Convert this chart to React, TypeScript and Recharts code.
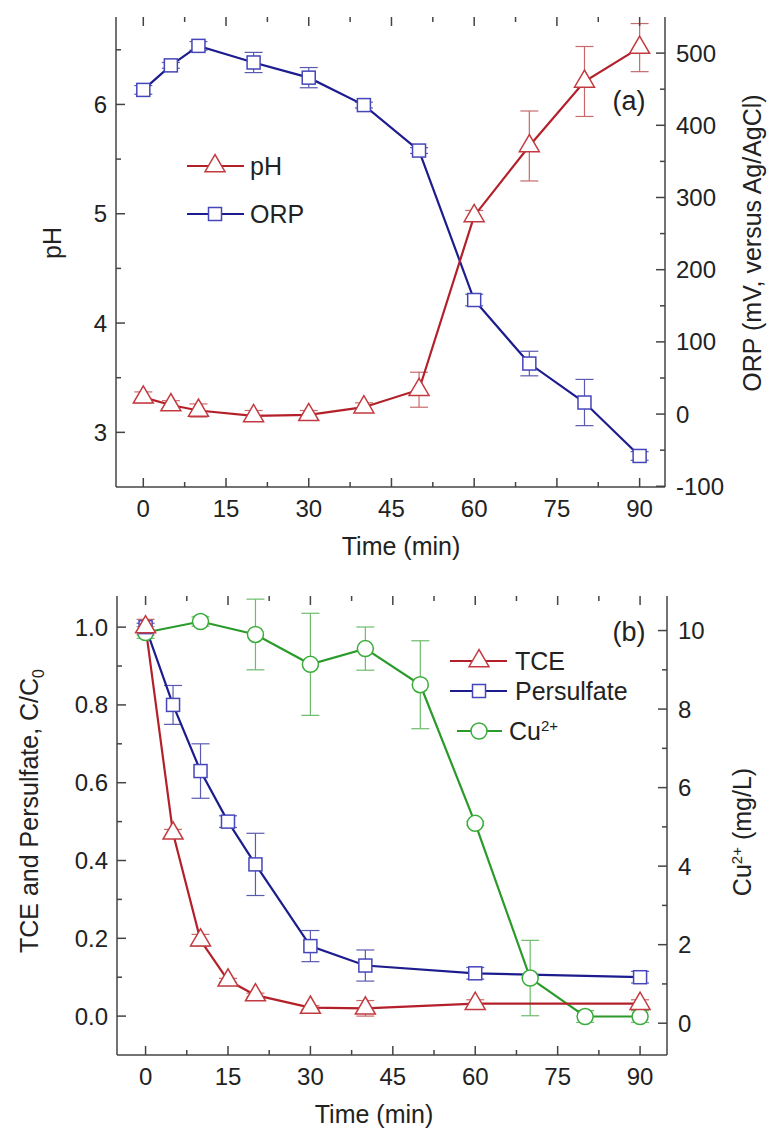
import React from 'react'
import { ComposedChart, Line, XAxis, YAxis, ErrorBar } from 'recharts'

// panel (a): pH and ORP vs time
const TIME_A = [0, 5, 10, 20, 30, 40, 50, 60, 70, 80, 90]
const PH = [3.32, 3.25, 3.2, 3.15, 3.16, 3.23, 3.39, 4.98, 5.62, 6.21, 6.52]
const PH_ERR = [0.05, 0.04, 0.06, 0.05, 0.04, 0.04, 0.16, 0.05, 0.32, 0.32, 0.22]
const ORP = [449, 483, 510, 487, 466, 428, 365, 158, 70, 16, -58]
const ORP_ERR = [6, 4, 6, 14, 14, 4, 4, 8, 17, 32, 6]

// panel (b): TCE, persulfate, Cu2+ vs time
const TIME_B = [0, 5, 10, 15, 20, 30, 40, 60, 90]
const TCE = [1.0, 0.47, 0.195, 0.092, 0.054, 0.022, 0.02, 0.032, 0.032]
const TCE_ERR = [0.02, 0.01, 0.015, 0.005, 0.005, 0.005, 0.02, 0.01, 0.01]
const PERSULFATE = [1.0, 0.8, 0.63, 0.5, 0.39, 0.18, 0.13, 0.11, 0.1]
const PERSULFATE_ERR = [0.01, 0.05, 0.07, 0.015, 0.08, 0.04, 0.04, 0.015, 0.015]
const TIME_CU = [0, 10, 20, 30, 40, 50, 60, 70, 80, 90]
const CU = [9.95, 10.23, 9.9, 9.14, 9.54, 8.62, 5.09, 1.15, 0.17, 0.17]
const CU_ERR = [0.15, 0.12, 0.9, 1.3, 0.55, 1.12, 0.05, 0.96, 0.15, 0.15]

// ticks
const TIME_TICKS = [0, 15, 30, 45, 60, 75, 90]
const TIME_MINOR = [7.5, 22.5, 37.5, 52.5, 67.5, 82.5]
const PH_TICKS = [3, 4, 5, 6]
const PH_MINOR = [3.5, 4.5, 5.5, 6.5]
const ORP_TICKS = [-100, 0, 100, 200, 300, 400, 500]
const ORP_MINOR = [-50, 50, 150, 250, 350, 450]
const CC0_TICKS = [0, 0.2, 0.4, 0.6, 0.8, 1.0]
const CC0_MINOR = [0.1, 0.3, 0.5, 0.7, 0.9]
const CU_TICKS = [0, 2, 4, 6, 8, 10]
const CU_MINOR = [1, 3, 5, 7, 9]

const FONT = '"Liberation Sans", Arial, Helvetica, sans-serif'
const AXIS = '#444'
const RED_LINE = '#b3202a'
const RED_MARK = '#c23a40'
const RED_ERR = '#c86a6a'
const BLUE_LINE = '#1c1c8e'
const BLUE_MARK = '#4646bb'
const BLUE_ERR = '#5a5ab0'
const GREEN_LINE = '#2a9a2a'
const GREEN_MARK = '#3aac3a'
const GREEN_ERR = '#6cbc6c'

type Frame = { left: number; right: number; top: number; bottom: number }

const FRAME_A: Frame = { left: 116, right: 665, top: 17, bottom: 487 }
const FRAME_B: Frame = { left: 117, right: 667, top: 36, bottom: 495 }

const sortTicks = (a: number[], b: number[]) => [...a, ...b].sort((p, q) => p - q)

const xTick = (f: Frame, major: number[]) => (props: any) => {
  const { x, payload } = props
  const isMajor = major.includes(payload.value)
  const len = isMajor ? 9 : 5
  return (
    <g>
      <line x1={x} x2={x} y1={f.bottom} y2={f.bottom - len} stroke={AXIS} strokeWidth={1.5} />
      <line x1={x} x2={x} y1={f.top} y2={f.top + len} stroke={AXIS} strokeWidth={1.5} />
      {isMajor && (
        <text x={x} y={f.bottom + 21} textAnchor="middle" dominantBaseline="central"
          fontFamily={FONT} fontSize={24} fill="#222">{payload.value}</text>
      )}
    </g>
  )
}

const yTick = (f: Frame, side: 'left' | 'right', major: number[], fmt: (v: number) => string) => (props: any) => {
  const { y, payload } = props
  const isMajor = major.includes(payload.value)
  const len = isMajor ? 9 : 5
  const ax = side === 'left' ? f.left : f.right
  const dir = side === 'left' ? 1 : -1
  return (
    <g>
      <line x1={ax} x2={ax + dir * len} y1={y} y2={y} stroke={AXIS} strokeWidth={1.5} />
      {isMajor && (
        <text x={side === 'left' ? ax - 9 : ax + 11} y={y}
          textAnchor={side === 'left' ? 'end' : 'start'} dominantBaseline="central"
          fontFamily={FONT} fontSize={24} fill="#222">{fmt(payload.value)}</text>
      )}
    </g>
  )
}

const triangleDot = (stroke: string, w: number) => (p: any) => {
  const { cx, cy, key } = p
  if (cx == null || cy == null) return <g key={key} />
  const h = w * 0.86
  const pts = `${cx},${cy - (2 * h) / 3} ${cx - w / 2},${cy + h / 3} ${cx + w / 2},${cy + h / 3}`
  return <polygon key={key} points={pts} fill="#fff" stroke={stroke} strokeWidth={1.5} />
}

const squareDot = (stroke: string, s: number) => (p: any) => {
  const { cx, cy, key } = p
  if (cx == null || cy == null) return <g key={key} />
  return <rect key={key} x={cx - s / 2} y={cy - s / 2} width={s} height={s} fill="#fff" stroke={stroke} strokeWidth={1.5} />
}

const circleDot = (stroke: string, r: number) => (p: any) => {
  const { cx, cy, key } = p
  if (cx == null || cy == null) return <g key={key} />
  return <circle key={key} cx={cx} cy={cy} r={r} fill="#fff" stroke={stroke} strokeWidth={1.5} />
}

const rows = (ts: number[], vs: number[], es: number[]) => ts.map((t, i) => ({ t, v: vs[i], err: es[i] }))

const phData = rows(TIME_A, PH, PH_ERR)
const orpData = rows(TIME_A, ORP, ORP_ERR)
const tceData = rows(TIME_B, TCE, TCE_ERR)
const persData = rows(TIME_B, PERSULFATE, PERSULFATE_ERR)
const cuData = rows(TIME_CU, CU, CU_ERR)

const text: React.CSSProperties = {
  position: 'absolute', fontFamily: FONT, fontSize: 25, color: '#222',
  whiteSpace: 'nowrap', lineHeight: 1,
}

const Title = ({ x, y, rotate, children, size }: { x: number; y: number; rotate?: boolean; children: React.ReactNode; size?: number }) => (
  <div style={{ ...text, fontSize: size ?? 25, left: x, top: y, transform: `translate(-50%, -50%)${rotate ? ' rotate(-90deg)' : ''}` }}>
    {children}
  </div>
)

const LegendRow = ({ y, x1, x2, mx, tx, color, mark, children }: any) => (
  <>
    <svg style={{ position: 'absolute', left: 0, top: 0, overflow: 'visible' }} width={1} height={1}>
      <line x1={x1} x2={x2} y1={y} y2={y} stroke={color} strokeWidth={2} />
      {mark({ cx: mx, cy: y, key: 'm' })}
    </svg>
    <div style={{ ...text, left: tx, top: y, transform: 'translateY(-50%)' }}>{children}</div>
  </>
)

function PanelA() {
  const f = FRAME_A
  return (
    <ComposedChart width={771} height={560} margin={{ top: f.top, right: 0, bottom: 0, left: 0 }}>
      <XAxis dataKey="t" type="number" domain={[-4.95, 94.6]} ticks={sortTicks(TIME_TICKS, TIME_MINOR)}
        interval={0} height={560 - f.bottom} tickLine={false} axisLine={{ stroke: AXIS, strokeWidth: 1.5 }}
        tick={xTick(f, TIME_TICKS)} allowDataOverflow />
      <XAxis xAxisId="top" orientation="top" type="number" domain={[-4.95, 94.6]} height={0}
        tick={false} tickLine={false} axisLine={{ stroke: AXIS, strokeWidth: 1.5 }} />
      <YAxis yAxisId="ph" type="number" domain={[2.5, 6.8]} ticks={sortTicks(PH_TICKS, PH_MINOR)} interval={0}
        width={f.left} tickLine={false} axisLine={{ stroke: AXIS, strokeWidth: 1.5 }}
        tick={yTick(f, 'left', PH_TICKS, v => String(v))} allowDataOverflow />
      <YAxis yAxisId="orp" orientation="right" type="number" domain={[-101, 550]} ticks={sortTicks(ORP_TICKS, ORP_MINOR)}
        interval={0} width={771 - f.right} tickLine={false} axisLine={{ stroke: AXIS, strokeWidth: 1.5 }}
        tick={yTick(f, 'right', ORP_TICKS, v => String(v))} allowDataOverflow />
      <Line yAxisId="orp" data={orpData} dataKey="v" type="linear" stroke={BLUE_LINE} strokeWidth={2.2}
        dot={squareDot(BLUE_MARK, 13)} activeDot={false} isAnimationActive={false}>
        <ErrorBar dataKey="err" width={9} stroke={BLUE_ERR} strokeWidth={1.2} direction="y" />
      </Line>
      <Line yAxisId="ph" data={phData} dataKey="v" type="linear" stroke={RED_LINE} strokeWidth={2.2}
        dot={triangleDot(RED_MARK, 20)} activeDot={false} isAnimationActive={false}>
        <ErrorBar dataKey="err" width={9} stroke={RED_ERR} strokeWidth={1.2} direction="y" />
      </Line>
    </ComposedChart>
  )
}

function PanelB() {
  const f = FRAME_B
  return (
    <ComposedChart width={771} height={568} margin={{ top: f.top, right: 0, bottom: 0, left: 0 }}>
      <XAxis dataKey="t" type="number" domain={[-5.2, 94.9]} ticks={sortTicks(TIME_TICKS, TIME_MINOR)}
        interval={0} height={568 - f.bottom} tickLine={false} axisLine={{ stroke: AXIS, strokeWidth: 1.5 }}
        tick={xTick(f, TIME_TICKS)} allowDataOverflow />
      <XAxis xAxisId="top" orientation="top" type="number" domain={[-5.2, 94.9]} height={0}
        tick={false} tickLine={false} axisLine={{ stroke: AXIS, strokeWidth: 1.5 }} />
      <YAxis yAxisId="c" type="number" domain={[-0.1, 1.08]} ticks={sortTicks(CC0_TICKS, CC0_MINOR)} interval={0}
        width={f.left} tickLine={false} axisLine={{ stroke: AXIS, strokeWidth: 1.5 }}
        tick={yTick(f, 'left', CC0_TICKS, v => v.toFixed(1))} allowDataOverflow />
      <YAxis yAxisId="cu" orientation="right" type="number" domain={[-0.81, 10.88]} ticks={sortTicks(CU_TICKS, CU_MINOR)}
        interval={0} width={771 - f.right} tickLine={false} axisLine={{ stroke: AXIS, strokeWidth: 1.5 }}
        tick={yTick(f, 'right', CU_TICKS, v => String(v))} allowDataOverflow />
      <Line yAxisId="cu" data={cuData} dataKey="v" type="linear" stroke={GREEN_LINE} strokeWidth={2.2}
        dot={circleDot(GREEN_MARK, 8)} activeDot={false} isAnimationActive={false}>
        <ErrorBar dataKey="err" width={9} stroke={GREEN_ERR} strokeWidth={1.2} direction="y" />
      </Line>
      <Line yAxisId="c" data={persData} dataKey="v" type="linear" stroke={BLUE_LINE} strokeWidth={2.2}
        dot={squareDot(BLUE_MARK, 13)} activeDot={false} isAnimationActive={false}>
        <ErrorBar dataKey="err" width={9} stroke={BLUE_ERR} strokeWidth={1.2} direction="y" />
      </Line>
      <Line yAxisId="c" data={tceData} dataKey="v" type="linear" stroke={RED_LINE} strokeWidth={2.2}
        dot={triangleDot(RED_MARK, 20)} activeDot={false} isAnimationActive={false}>
        <ErrorBar dataKey="err" width={9} stroke={RED_ERR} strokeWidth={1.2} direction="y" />
      </Line>
    </ComposedChart>
  )
}

export default function App() {
  return (
    <div style={{ position: 'absolute', left: 0, top: 0, width: 771, height: 1128, background: '#fff', overflow: 'hidden' }}>
      <div style={{ position: 'absolute', left: 0, top: 0 }}>
        <PanelA />
      </div>
      <div style={{ position: 'absolute', left: 0, top: 560 }}>
        <PanelB />
      </div>

      {/* panel (a) text */}
      <Title x={52} y={243} rotate>pH</Title>
      <Title x={752} y={243} rotate>ORP (mV, versus Ag/AgCl)</Title>
      <Title x={401} y={546}>Time (min)</Title>
      <Title x={629} y={101} size={27}>(a)</Title>
      <LegendRow y={166} x1={187} x2={244} mx={215} tx={250} color={RED_LINE} mark={triangleDot(RED_MARK, 20)}>pH</LegendRow>
      <LegendRow y={214} x1={187} x2={244} mx={215} tx={250} color={BLUE_LINE} mark={squareDot(BLUE_MARK, 13)}>ORP</LegendRow>

      {/* panel (b) text */}
      <Title x={32} y={811} rotate>TCE and Persulfate, C/C<sub style={{ fontSize: 16 }}>0</sub></Title>
      <Title x={742} y={832} rotate>Cu<sup style={{ fontSize: 15 }}>2+</sup> (mg/L)</Title>
      <Title x={374} y={1114}>Time (min)</Title>
      <Title x={629} y={632} size={27}>(b)</Title>
      <LegendRow y={661} x1={450} x2={507} mx={479} tx={515} color={RED_LINE} mark={triangleDot(RED_MARK, 20)}>TCE</LegendRow>
      <LegendRow y={691} x1={450} x2={507} mx={479} tx={515} color={BLUE_LINE} mark={squareDot(BLUE_MARK, 13)}>Persulfate</LegendRow>
      <LegendRow y={731} x1={457} x2={502} mx={479} tx={509} color={GREEN_LINE} mark={circleDot(GREEN_MARK, 8)}>
        Cu<sup style={{ fontSize: 15 }}>2+</sup>
      </LegendRow>
    </div>
  )
}
